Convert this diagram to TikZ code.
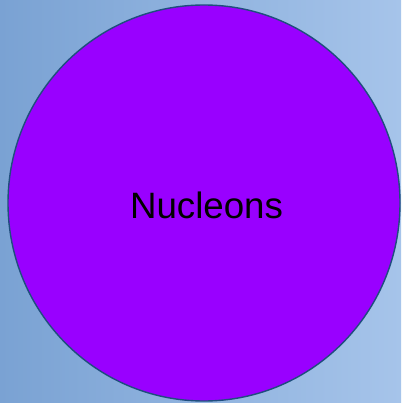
\documentclass[tikz,border=0pt]{standalone}
\usepackage{fontspec}
\setmainfont{Liberation Sans}
\definecolor{bgleft}{HTML}{7AA2D3}
\definecolor{bgright}{HTML}{A6C4EA}
\definecolor{ballfill}{HTML}{9900FF}
\definecolor{balledge}{HTML}{1F4E7E}
\begin{document}
\begin{tikzpicture}[x=1pt,y=-1pt]
    \coordinate (TL) at (0,0);
    \coordinate (BR) at (401,403);
    \useasboundingbox (TL) rectangle (BR);
    \shade[left color=bgleft,right color=bgright] (TL) rectangle (BR);
    \coordinate (O) at (204,203);
    \draw[line width=1.4pt,draw=balledge,fill=ballfill] (O) ellipse[x radius=196,y radius=198];
    \node[anchor=base,inner sep=0pt,font=\fontsize{36.7}{40}\selectfont] (lbl) at (206.5,218) {Nucleons};
\end{tikzpicture}
\end{document}
